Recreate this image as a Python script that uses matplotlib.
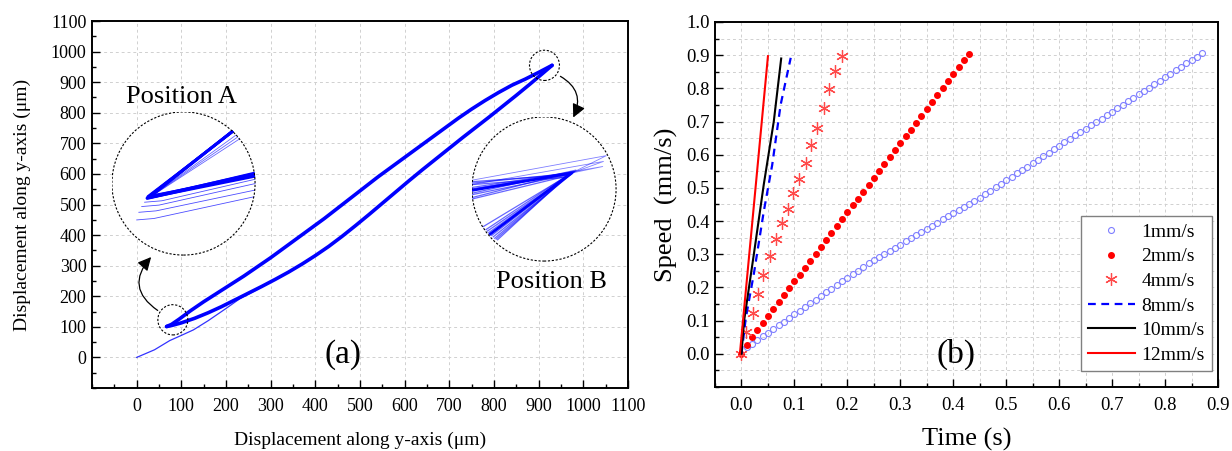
import numpy as np
import matplotlib
matplotlib.use("Agg")
import matplotlib.pyplot as plt
from matplotlib.patches import Circle, Ellipse, FancyArrowPatch
from matplotlib.ticker import MultipleLocator, FormatStrFormatter

plt.rcParams['font.family'] = ['Liberation Serif', 'DejaVu Serif']

# ---------------- data: panel (a) ----------------
init_x = [0, 40, 74, 100, 127, 160, 200, 231, 270, 300]
init_y = [0, 25, 55, 72, 90, 120, 160, 192, 222, 248]
upper_x = [930, 900, 870, 840, 810, 780, 750, 720, 690, 660, 630, 600, 570, 540, 510, 480,
           450, 420, 390, 360, 330, 300, 270, 240, 210, 180, 150, 120, 95, 78, 67]
upper_y = [955, 932, 910, 890, 866, 840, 812, 782, 750, 718, 686, 654, 622, 590, 556, 522,
           488, 454, 422, 390, 358, 326, 296, 266, 238, 210, 182, 152, 125, 108, 101]
lower_x = [67, 80, 100, 130, 160, 190, 220, 250, 280, 310, 340, 370, 400, 430, 460, 490,
           520, 550, 580, 610, 640, 670, 700, 730, 760, 790, 820, 850, 880, 910, 930]
lower_y = [101, 105, 113, 128, 146, 166, 188, 210, 232, 255, 279, 305, 333, 363, 396, 431,
           467, 504, 541, 578, 614, 649, 684, 719, 753, 787, 822, 857, 893, 930, 955]

# inset A (local 0-1 coordinates of the zoomed view)
insA_cyc_tip_u = [0.245, 0.250, 0.255, 0.260, 0.248, 0.252]
insA_cyc_tip_v = [0.398, 0.402, 0.405, 0.400, 0.395, 0.410]
insA_cyc_up_u = [0.845, 0.850, 0.840, 0.855, 0.848, 0.842]
insA_cyc_up_v = [0.868, 0.872, 0.862, 0.875, 0.866, 0.860]
insA_cyc_lo_v = [0.550, 0.560, 0.570, 0.575, 0.565, 0.555]
insA_thin_start_u = [0.175, 0.190, 0.210, 0.230]
insA_thin_start_v = [0.247, 0.300, 0.340, 0.370]
insA_thin_end_v = [0.410, 0.455, 0.500, 0.530]
insA_thin_up_u = [0.870, 0.880, 0.890]
insA_thin_up_v = [0.840, 0.825, 0.810]

# inset B
insB_left_v = [0.43, 0.44, 0.46, 0.47, 0.49, 0.50, 0.51, 0.53, 0.54, 0.55]
insB_apex_u = [0.66, 0.70, 0.68, 0.72, 0.69, 0.67, 0.71, 0.65, 0.70, 0.68]
insB_apex_v = [0.59, 0.62, 0.60, 0.63, 0.61, 0.60, 0.62, 0.58, 0.61, 0.60]
insB_low_u = [0.08, 0.10, 0.12, 0.14, 0.16, 0.18, 0.11, 0.13, 0.15, 0.17]
insB_low_v = [0.24, 0.22, 0.20, 0.18, 0.16, 0.15, 0.21, 0.19, 0.17, 0.155]
insB_over_start_v = [0.56, 0.53, 0.50]
insB_over_u = [0.93, 0.91, 0.905]
insB_over_v = [0.73, 0.69, 0.655]

# ---------------- data: panel (b) ----------------
t_1 = [0.01, 0.02, 0.03, 0.04, 0.05, 0.06, 0.07, 0.08, 0.09, 0.10,
       0.11, 0.12, 0.13, 0.14, 0.15, 0.16, 0.17, 0.18, 0.19, 0.20,
       0.21, 0.22, 0.23, 0.24, 0.25, 0.26, 0.27, 0.28, 0.29, 0.30,
       0.31, 0.32, 0.33, 0.34, 0.35, 0.36, 0.37, 0.38, 0.39, 0.40,
       0.41, 0.42, 0.43, 0.44, 0.45, 0.46, 0.47, 0.48, 0.49, 0.50,
       0.51, 0.52, 0.53, 0.54, 0.55, 0.56, 0.57, 0.58, 0.59, 0.60,
       0.61, 0.62, 0.63, 0.64, 0.65, 0.66, 0.67, 0.68, 0.69, 0.70,
       0.71, 0.72, 0.73, 0.74, 0.75, 0.76, 0.77, 0.78, 0.79, 0.80,
       0.81, 0.82, 0.83, 0.84, 0.85, 0.86, 0.87]
v_1 = [0.020, 0.031, 0.042, 0.053, 0.064, 0.075, 0.086, 0.097, 0.108, 0.119,
       0.130, 0.141, 0.152, 0.163, 0.174, 0.185, 0.196, 0.207, 0.218, 0.229,
       0.240, 0.251, 0.262, 0.273, 0.282, 0.292, 0.301, 0.311, 0.320, 0.329,
       0.339, 0.348, 0.358, 0.367, 0.376, 0.386, 0.395, 0.405, 0.414, 0.423,
       0.433, 0.442, 0.452, 0.461, 0.471, 0.482, 0.492, 0.502, 0.513, 0.523,
       0.533, 0.544, 0.554, 0.564, 0.575, 0.585, 0.595, 0.606, 0.616, 0.627,
       0.637, 0.647, 0.658, 0.668, 0.678, 0.689, 0.699, 0.709, 0.720, 0.730,
       0.740, 0.751, 0.761, 0.771, 0.782, 0.792, 0.802, 0.813, 0.823, 0.834,
       0.844, 0.854, 0.865, 0.875, 0.885, 0.896, 0.906]
t_2 = [0.00, 0.01, 0.02, 0.03, 0.04, 0.05, 0.06, 0.07, 0.08, 0.09,
       0.10, 0.11, 0.12, 0.13, 0.14, 0.15, 0.16, 0.17, 0.18, 0.19,
       0.20, 0.21, 0.22, 0.23, 0.24, 0.25, 0.26, 0.27, 0.28, 0.29,
       0.30, 0.31, 0.32, 0.33, 0.34, 0.35, 0.36, 0.37, 0.38, 0.39,
       0.40, 0.41, 0.42, 0.43]
v_2 = [0.000, 0.028, 0.052, 0.072, 0.093, 0.114, 0.135, 0.156, 0.176, 0.197,
       0.218, 0.239, 0.260, 0.280, 0.301, 0.322, 0.343, 0.364, 0.384, 0.405,
       0.426, 0.447, 0.468, 0.488, 0.509, 0.530, 0.551, 0.572, 0.592, 0.613,
       0.634, 0.655, 0.676, 0.696, 0.717, 0.738, 0.759, 0.780, 0.800, 0.821,
       0.842, 0.863, 0.884, 0.904]
t_4 = [0.000, 0.009, 0.021, 0.031, 0.041, 0.054, 0.065, 0.076, 0.087, 0.098,
       0.109, 0.121, 0.131, 0.143, 0.155, 0.165, 0.177, 0.189]
v_4 = [0.000, 0.067, 0.123, 0.181, 0.237, 0.294, 0.346, 0.393, 0.436, 0.484,
       0.527, 0.576, 0.628, 0.681, 0.740, 0.798, 0.851, 0.897]
t_8 = [0.000, 0.008, 0.024, 0.042, 0.058, 0.074, 0.093]
v_8 = [0.000, 0.106, 0.247, 0.428, 0.569, 0.751, 0.892]
t_10 = [0.000, 0.005, 0.024, 0.042, 0.061, 0.075]
v_10 = [0.000, 0.100, 0.307, 0.509, 0.700, 0.890]
t_12 = [-0.003, 0.050]
v_12 = [0.000, 0.897]
labels_b = ['1mm/s', '2mm/s', '4mm/s', '8mm/s', '10mm/s', '12mm/s']

W, H = 1232, 451
fig = plt.figure(figsize=(W / 100, H / 100), dpi=100)

def fx(px):
    return px / W

def fy(py):
    return 1 - py / H

BLUE = '#0000ff'

# ---------------- panel (a) ----------------
axa = fig.add_axes([fx(92), fy(388), (628 - 92) / W, (388 - 21) / H])
axa.set_xlim(-100, 1100)
axa.set_ylim(-100, 1100)
axa.set_xticks(np.arange(0, 1101, 100))
axa.set_yticks(np.arange(0, 1101, 100))
axa.xaxis.set_minor_locator(MultipleLocator(50))
axa.yaxis.set_minor_locator(MultipleLocator(50))
axa.grid(True, which='major', color='#d0d0d0', ls=(0, (3, 3)), lw=0.7)
axa.set_axisbelow(True)
axa.tick_params(which='both', direction='in', top=False, right=False, labelsize=13)
axa.tick_params(which='major', length=6, width=1)
axa.tick_params(which='minor', length=3, width=1)
axa.tick_params(axis='x', pad=7)
axa.tick_params(axis='y', pad=4)
for s in axa.spines.values():
    s.set_linewidth(1.4)
axa.plot(init_x, init_y, color=BLUE, lw=0.9, alpha=0.8)
axa.plot(lower_x, lower_y, color=BLUE, lw=2.6, solid_capstyle='round', solid_joinstyle='round')
axa.plot(upper_x, upper_y, color=BLUE, lw=2.6, solid_capstyle='round', solid_joinstyle='round')
axa.set_xlabel('Displacement along y-axis (μm)', fontsize=14, labelpad=12)
axa.set_ylabel('Displacement along y-axis (μm)', fontsize=14, labelpad=14)
axa.text(0.468, 0.09, '(a)', transform=axa.transAxes, fontsize=24, ha='center', va='center')
axa.text(fx(181), fy(97), 'Position A', transform=fig.transFigure, fontsize=19, ha='center', va='center')
axa.text(fx(551), fy(282), 'Position B', transform=fig.transFigure, fontsize=19, ha='center', va='center')
axa.add_patch(Ellipse((81, 123), 30 / 0.447, 30 / 0.3033, fill=False, ls=(0, (2, 1.5)), lw=0.8, color='black', zorder=5))
axa.add_patch(Ellipse((913, 955), 30 / 0.447, 30 / 0.3033, fill=False, ls=(0, (2, 1.5)), lw=0.8, color='black', zorder=5))

arrA = FancyArrowPatch((fx(160), fy(312)), (fx(153), fy(255)), transform=fig.transFigure,
                       connectionstyle='arc3,rad=-0.6', arrowstyle='-|>,head_length=8,head_width=4',
                       color='black', lw=0.9, mutation_scale=1)
fig.patches.append(arrA)
arrB = FancyArrowPatch((fx(558), fy(75)), (fx(572), fy(120)), transform=fig.transFigure,
                       connectionstyle='arc3,rad=-0.5', arrowstyle='-|>,head_length=8,head_width=4',
                       color='black', lw=0.9, mutation_scale=1)
fig.patches.append(arrB)

def make_inset(cx, cy, r):
    ax = fig.add_axes([fx(cx - r), fy(cy + r), 2 * r / W, 2 * r / H])
    ax.set_xlim(0, 1)
    ax.set_ylim(0, 1)
    ax.axis('off')
    clip = Circle((0.5, 0.5), 0.5, transform=ax.transAxes)
    bg = Circle((0.5, 0.5), 0.5, transform=ax.transAxes, facecolor='white', edgecolor='none', zorder=0)
    ax.add_patch(bg)
    border = Circle((0.5, 0.5), 0.497, transform=ax.transAxes, fill=False, ls=(0, (2, 1.5)),
                    lw=0.8, color='black', zorder=10)
    ax.add_patch(border)
    return ax, clip

insA, clipA = make_inset(183.5, 183.5, 72)
for su, sv, ev in zip(insA_thin_start_u, insA_thin_start_v, insA_thin_end_v):
    ln, = insA.plot([su, su + 0.12, 1.0], [sv, sv + 0.01, ev], color=BLUE, lw=0.6, alpha=0.7)
    ln.set_clip_path(clipA)
for uu, uv in zip(insA_thin_up_u, insA_thin_up_v):
    ln, = insA.plot([0.26, uu], [0.40, uv], color=BLUE, lw=0.6, alpha=0.6)
    ln.set_clip_path(clipA)
for tu, tv, upu, upv, lov in zip(insA_cyc_tip_u, insA_cyc_tip_v, insA_cyc_up_u, insA_cyc_up_v, insA_cyc_lo_v):
    ln, = insA.plot([upu, tu, 1.0], [upv, tv, lov], color=BLUE, lw=1.8, solid_joinstyle='round')
    ln.set_clip_path(clipA)

insB, clipB = make_inset(544, 189, 72.5)
for sv, au, av, lu, lv in zip(insB_left_v, insB_apex_u, insB_apex_v, insB_low_u, insB_low_v):
    ln, = insB.plot([0.0, au, lu], [sv, av, lv], color=BLUE, lw=0.9, alpha=0.6)
    ln.set_clip_path(clipB)
for sv, ou, ov in zip(insB_over_start_v, insB_over_u, insB_over_v):
    ln, = insB.plot([0.0, ou, 0.69], [sv, ov, 0.61], color=BLUE, lw=0.6, alpha=0.5)
    ln.set_clip_path(clipB)
ln, = insB.plot([0.0, 0.69, 0.13], [0.49, 0.61, 0.19], color=BLUE, lw=2.0)
ln.set_clip_path(clipB)

# ---------------- panel (b) ----------------
axb = fig.add_axes([fx(715), fy(387), (1218 - 715) / W, (387 - 22) / H])
axb.set_xlim(-0.05, 0.9)
axb.set_ylim(-0.1, 1.0)
axb.set_xticks(np.round(np.arange(0, 0.91, 0.1), 1))
axb.set_yticks(np.round(np.arange(0, 1.01, 0.1), 1))
axb.xaxis.set_minor_locator(MultipleLocator(0.05))
axb.yaxis.set_minor_locator(MultipleLocator(0.05))
axb.xaxis.set_major_formatter(FormatStrFormatter('%.1f'))
axb.yaxis.set_major_formatter(FormatStrFormatter('%.1f'))
axb.grid(True, which='both', color='#d0d0d0', ls=(0, (3, 3)), lw=0.7)
axb.set_axisbelow(True)
axb.tick_params(which='both', direction='in', top=False, right=False, labelsize=13.5)
axb.tick_params(which='major', length=6, width=1)
axb.tick_params(which='minor', length=3, width=1)
axb.tick_params(axis='x', pad=7)
axb.tick_params(axis='y', pad=4)
for s in axb.spines.values():
    s.set_linewidth(1.4)

axb.plot(t_1, v_1, ls='none', marker='o', ms=4.3, mfc='none', mec='#7f7fff', mew=0.8, label=labels_b[0])
axb.plot(t_2, v_2, ls='none', marker='o', ms=4.0, mfc='#ff0000', mec='#ff0000', label=labels_b[1])
axb.plot(t_4, v_4, ls='none', marker=(6, 2, 0), ms=9, mec='#ff4a4a', mew=0.9, label=labels_b[2])
axb.plot(t_8, v_8, ls=(0, (3.5, 2.5)), color='#0000ff', lw=1.6, label=labels_b[3])
axb.plot(t_10, v_10, ls='-', color='black', lw=1.5, label=labels_b[4])
axb.plot(t_12, v_12, ls='-', color='#ff0000', lw=1.5, label=labels_b[5])

axb.set_xlabel('Time (s)', fontsize=19, labelpad=10)
axb.set_ylabel('Speed  (mm/s)', fontsize=19, labelpad=6)
axb.text(0.48, 0.09, '(b)', transform=axb.transAxes, fontsize=24, ha='center', va='center')

leg = axb.legend(loc='lower right', bbox_to_anchor=(0.9875, 0.045), borderaxespad=0,
                 fontsize=14, fancybox=False, framealpha=1, edgecolor='#808080',
                 handlelength=2.4, handletextpad=0.35, labelspacing=0.36, borderpad=0.35)
leg.get_frame().set_linewidth(1.0)

fig.savefig('out.png', dpi=100)
